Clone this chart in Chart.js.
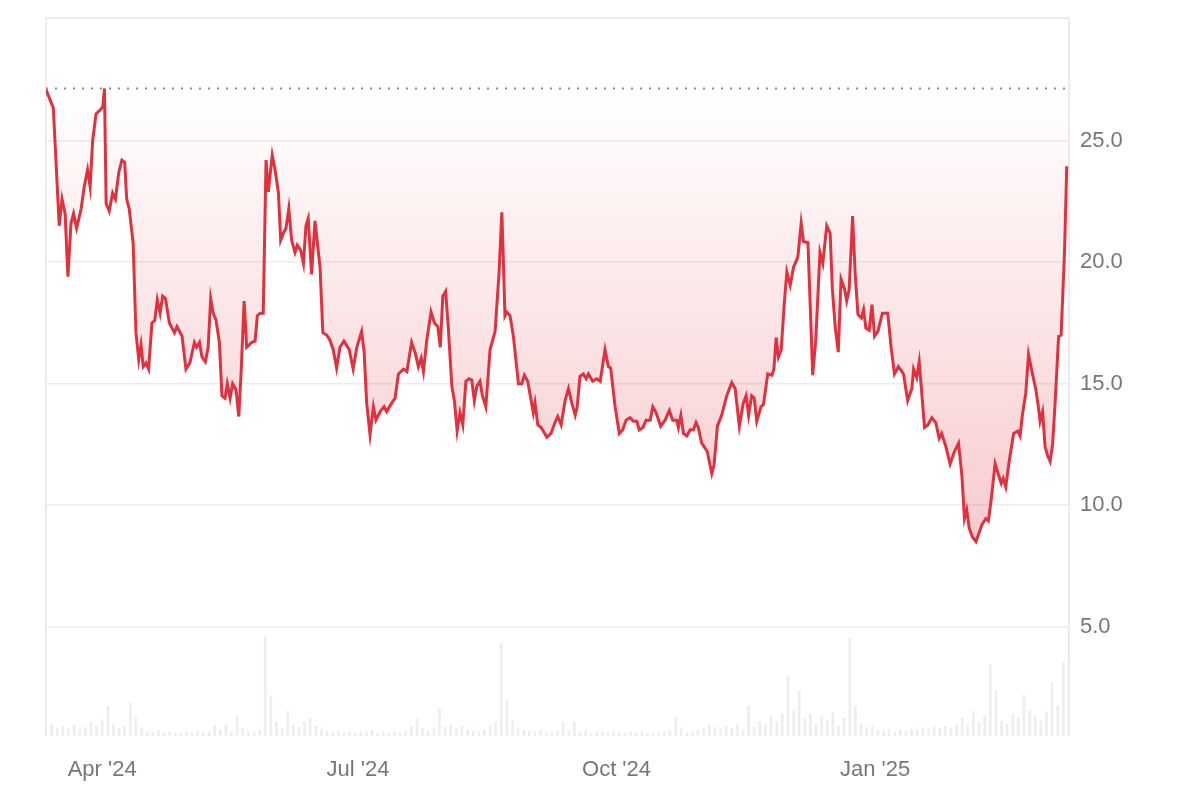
<!DOCTYPE html>
<html>
  <head>
    <script src="https://cdn.jsdelivr.net/npm/chart.js"></script>
    <style>
      html, body { margin: 0; padding: 0; background: #fff; }
      #wrap { width: 1197px; height: 797px; }
    </style>
  </head>
  <body>
    <div id="wrap"><canvas id="priceChart"></canvas></div>

    <script>
      // days counted from 12 Mar 2024
      const priceDays = [
        0, 2.6, 4.7, 5.7, 6.8, 7.8, 8.9, 9.8, 10.9, 12.5, 13.6, 14.8, 15.7, 16.6, 17.8, 19.6, 20.2, 20.8, 21.4, 22.5,
        23.7, 24.7, 25.9, 27.0, 28.0, 28.7, 29.6, 31.0, 32.0, 33.0, 33.8, 34.6, 35.6, 36.5, 37.7, 38.7, 39.6, 40.6, 41.5, 42.5,
        43.9, 45.7, 46.6, 48.4, 49.8, 51.2, 52.8, 53.6, 54.6, 55.5, 56.7, 57.7, 58.6, 59.5, 60.5, 61.7, 62.6, 63.7, 64.5, 65.5,
        66.4, 67.6, 68.6, 69.4, 70.5, 71.4, 73.2, 74.4, 75.2, 76.2, 77.3, 78.3, 79.1, 80.5, 81.5, 82.7, 83.5, 84.5, 85.4, 86.4,
        87.4, 88.6, 89.4, 90.6, 91.6, 92.5, 93.3, 94.5, 95.7, 97.5, 98.5, 99.9, 101.0, 102.2, 103.4, 104.6, 106.0, 107.9, 109.3, 110.6,
        112.3, 113.2, 114.1, 115.3, 116.5, 117.4, 118.9, 120.3, 121.2, 123.0, 124.2, 125.4, 127.2, 128.4, 130.1, 131.3, 132.5, 133.5, 134.3, 135.5,
        137.0, 138.2, 139.4, 140.3, 141.2, 142.2, 143.2, 144.4, 145.3, 146.3, 147.3, 148.3, 149.4, 150.5, 151.5, 152.4, 153.3, 154.4, 155.3, 156.5,
        158.0, 159.8, 161.2, 162.2, 162.7, 163.3, 163.9, 165.1, 166.3, 168.1, 169.3, 170.2, 171.4, 172.8, 173.4, 174.0, 175.0, 176.2, 178.2, 179.7,
        181.1, 182.1, 183.3, 184.7, 185.9, 187.1, 188.3, 189.0, 190.0, 191.2, 192.2, 193.0, 194.5, 196.0, 197.2, 198.9, 200.1, 200.9, 202.5, 204.0,
        205.2, 206.4, 207.8, 209.0, 210.2, 211.1, 212.4, 213.5, 215.0, 215.9, 217.1, 218.7, 220.3, 221.8, 223.0, 224.4, 225.0, 225.9, 226.8, 228.0,
        229.2, 230.4, 231.3, 232.1, 233.3, 234.5, 235.3, 236.9, 237.7, 238.9, 240.4, 242.2, 244.0, 245.2, 246.7, 248.1, 249.1, 250.0, 251.1, 252.0,
        252.9, 254.4, 255.3, 256.8, 258.3, 259.0, 259.8, 260.6, 261.6, 262.7, 263.6, 264.8, 266.0, 267.5, 268.7, 269.5, 271.1, 271.9, 272.8, 273.9,
        275.4, 276.4, 277.8, 279.0, 279.8, 280.8, 281.9, 282.9, 284.1, 284.9, 285.8, 287.0, 287.9, 288.9, 290.1, 290.9, 291.7, 292.9, 293.9, 294.8,
        296.0, 297.6, 299.5, 300.7, 301.9, 303.3, 305.1, 306.6, 308.1, 308.7, 309.8, 310.7, 312.6, 313.8, 315.2, 316.6, 317.8, 318.7, 320.2, 321.7,
        323.2, 324.7, 325.9, 326.8, 327.6, 328.5, 329.6, 330.9, 332.0, 333.0, 334.4, 335.3, 336.3, 337.7, 338.9, 339.9, 340.6, 341.5, 342.7, 344.3,
        345.8, 346.6, 347.4, 348.6, 349.6, 351.0, 352.2, 353.1, 353.7, 354.6, 355.5, 356.5, 357.3, 358.2, 359.1, 360.3, 361.2, 362.4, 363.2
      ];
      const priceValues = [
        27.1, 26.35, 21.5, 22.6, 22.0, 19.4, 21.6, 22.0, 21.4, 22.2, 23.1, 23.8, 23.1, 25.0, 26.1, 26.3, 26.4, 27.15, 22.4, 22.1,
        22.85, 22.6, 23.7, 24.2, 24.1, 22.6, 22.2, 20.8, 17.1, 16.0, 16.6, 15.7, 15.85, 15.6, 17.5, 17.6, 18.45, 17.9, 18.6, 18.5,
        17.5, 17.1, 17.35, 16.95, 15.6, 15.85, 16.7, 16.5, 16.7, 16.1, 15.9, 16.5, 18.5, 17.9, 17.6, 16.7, 14.5, 14.4, 15.0, 14.4,
        15.0, 14.75, 13.65, 15.4, 18.4, 16.5, 16.7, 16.75, 17.8, 17.9, 17.9, 24.2, 22.9, 24.4, 23.8, 22.85, 20.9, 21.2, 21.4, 22.2,
        20.9, 20.4, 20.7, 20.5, 19.95, 21.5, 21.8, 19.5, 21.7, 19.8, 17.1, 17.0, 16.8, 16.4, 15.65, 16.5, 16.75, 16.4, 15.6, 16.5,
        17.15, 16.3, 14.2, 12.9, 14.05, 13.5, 13.85, 14.05, 13.85, 14.2, 14.4, 15.4, 15.6, 15.5, 16.7, 16.3, 15.7, 16.05, 15.5, 16.8,
        17.95, 17.5, 17.35, 16.5, 18.6, 18.8, 17.2, 14.9, 14.3, 13.05, 13.8, 13.3, 15.1, 15.2, 15.15, 14.3, 14.9, 15.1, 14.5, 14.05,
        16.4, 17.15, 19.55, 22.05, 20.2, 17.8, 17.95, 17.8, 16.95, 15.0, 15.0, 15.35, 15.1, 14.2, 13.8, 14.2, 13.3, 13.2, 12.8, 12.95,
        13.4, 13.65, 13.3, 14.3, 14.8, 14.2, 13.7, 14.05, 15.3, 15.4, 15.2, 15.4, 15.1, 15.2, 15.1, 16.4, 15.7, 15.65, 14.05, 12.95,
        13.1, 13.5, 13.6, 13.45, 13.45, 13.1, 13.2, 13.5, 13.5, 14.05, 13.8, 13.25, 13.5, 13.9, 13.5, 13.5, 13.2, 13.7, 12.95, 12.85,
        13.1, 13.1, 13.4, 13.2, 12.55, 12.35, 12.2, 11.3, 11.65, 13.25, 13.7, 14.5, 15.05, 14.8, 13.25, 14.2, 14.5, 13.7, 14.5, 14.4,
        13.45, 14.05, 14.15, 15.4, 15.35, 15.6, 16.9, 16.1, 16.4, 18.3, 19.6, 19.05, 19.8, 20.2, 21.6, 20.85, 20.8, 18.3, 15.35, 16.8,
        20.4, 19.95, 21.5, 21.2, 18.9, 17.35, 16.3, 19.3, 18.9, 18.4, 18.9, 21.9, 19.55, 17.85, 17.7, 18.05, 17.3, 17.2, 18.25, 16.95,
        17.15, 17.9, 17.9, 16.5, 15.4, 15.7, 15.4, 14.3, 14.8, 15.6, 15.25, 15.9, 13.2, 13.3, 13.6, 13.4, 12.75, 12.95, 12.4, 11.7,
        12.2, 12.55, 11.2, 9.45, 9.8, 9.05, 8.7, 8.5, 8.85, 9.2, 9.45, 9.35, 10.2, 11.7, 11.25, 10.9, 11.1, 10.75, 11.8, 12.95,
        13.05, 12.85, 13.7, 14.6, 16.2, 15.4, 14.75, 14.05, 13.45, 13.85, 12.4, 12.0, 11.8, 12.55, 14.3, 16.95, 17.0, 20.4, 23.95
      ];
      // volume, one bar per 2 days
      const volumeValues = [
        6, 12, 8, 10, 7, 11, 6, 9, 14, 10, 16, 30, 12, 8, 10, 33, 18, 9, 5, 4,
        6, 3, 4, 3, 3, 4, 3, 5, 3, 4, 10, 6, 12, 4, 20, 8, 5, 4, 6, 100,
        40, 14, 8, 25, 12, 9, 14, 18, 10, 7, 5, 4, 6, 3, 4, 3, 5, 4, 6, 3,
        4, 3, 4, 3, 6, 10, 17, 8, 5, 7, 28, 9, 12, 8, 10, 6, 5, 4, 6, 11,
        14, 93, 37, 15, 8, 6, 5, 4, 6, 3, 4, 5, 14, 5, 14, 4, 6, 3, 5, 4,
        3, 4, 3, 3, 4, 3, 5, 3, 4, 3, 4, 6, 19, 8, 4, 3, 6, 8, 12, 9,
        7, 10, 8, 12, 6, 30, 9, 15, 12, 20, 14, 22, 60, 25, 45, 18, 22, 12, 20, 15,
        24, 10, 18, 98, 30, 12, 8, 10, 6, 5, 7, 4, 6, 5, 7, 6, 8, 7, 9, 8,
        10, 8, 12, 18, 10, 25, 14, 20, 71, 45, 15, 12, 22, 18, 41, 25, 20, 15, 24, 53,
        30, 74, 109
      ];
      const tickDays = [20, 111, 203, 295];
      const tickLabels = ["Apr '24", "Jul '24", "Oct '24", "Jan '25"];
      const yTicks = [5, 10, 15, 20, 25];

      const maxPrice = Math.max(...priceValues);
      const lineColor = '#e0323e';

      const frame = {
        id: 'frame',
        beforeDatasetsDraw(chart) {
          const { ctx, chartArea: a } = chart;
          ctx.save();
          ctx.strokeStyle = '#e6e6e6';
          ctx.lineWidth = 1.5;
          ctx.beginPath();
          ctx.moveTo(a.left, a.bottom);
          ctx.lineTo(a.left, a.top);
          ctx.lineTo(a.right, a.top);
          ctx.lineTo(a.right, a.bottom);
          ctx.stroke();
          ctx.restore();
        }
      };

      const ctx = document.getElementById('priceChart').getContext('2d');
      new Chart(ctx, {
        type: 'line',
        data: {
          datasets: [
            {
              label: 'max',
              data: [{ x: 0, y: maxPrice }, { x: 364, y: maxPrice }],
              borderColor: '#8a8a8a',
              borderWidth: 2,
              borderDash: [2, 7],
              pointRadius: 0,
              fill: false,
              order: 0
            },
            {
              label: 'price',
              data: priceDays.map((d, i) => ({ x: d, y: priceValues[i] })),
              borderColor: lineColor,
              borderWidth: 3,
              pointRadius: 0,
              tension: 0,
              fill: { value: maxPrice },
              backgroundColor: (c) => {
                const chart = c.chart;
                if (!chart.chartArea) return 'rgba(224,50,62,0.1)';
                const y = chart.scales.y;
                const g = chart.ctx.createLinearGradient(0, y.getPixelForValue(maxPrice), 0, y.getPixelForValue(8));
                g.addColorStop(0, 'rgba(224,50,62,0.0)');
                g.addColorStop(1, 'rgba(224,50,62,0.26)');
                return g;
              },
              order: 1
            },
            {
              type: 'bar',
              label: 'volume',
              data: volumeValues.map((v, i) => ({ x: i * 2, y: v })),
              yAxisID: 'yv',
              backgroundColor: 'rgba(228,233,237,0.75)',
              barThickness: 2,
              order: 2
            }
          ]
        },
        options: {
          responsive: true,
          maintainAspectRatio: false,
          animation: false,
          layout: { padding: { left: 46, top: 18, right: 0, bottom: 0 } },
          plugins: { legend: { display: false }, tooltip: { enabled: false } },
          scales: {
            x: {
              type: 'linear',
              min: 0,
              max: 364,
              offset: false,
              grid: { display: false },
              border: { display: false },
              afterBuildTicks: (s) => { s.ticks = tickDays.map(v => ({ value: v })); },
              afterFit: (s) => { s.height = 61; s.paddingLeft = 0; s.paddingRight = 0; },
              ticks: {
                autoSkip: false,
                maxRotation: 0,
                padding: 13,
                color: '#777',
                font: { family: 'Liberation Sans', size: 22 },
                callback: (v) => tickLabels[tickDays.indexOf(v)]
              }
            },
            y: {
              position: 'right',
              min: 0.5,
              max: 30.05,
              afterBuildTicks: (s) => { s.ticks = yTicks.map(v => ({ value: v })); },
              afterFit: (s) => { s.width = 128; s.paddingTop = 0; s.paddingBottom = 0; },
              grid: { color: '#ececec', lineWidth: 1.5, drawTicks: false },
              border: { display: false },
              ticks: {
                padding: 11,
                color: '#777',
                font: { family: 'Liberation Sans', size: 22 },
                callback: (v) => v.toFixed(1)
              }
            },
            yv: {
              display: false,
              min: 0,
              max: 718,
              afterFit: (s) => { s.paddingTop = 0; s.paddingBottom = 0; }
            }
          }
        },
        plugins: [frame]
      });
    </script>
  </body>
</html>
